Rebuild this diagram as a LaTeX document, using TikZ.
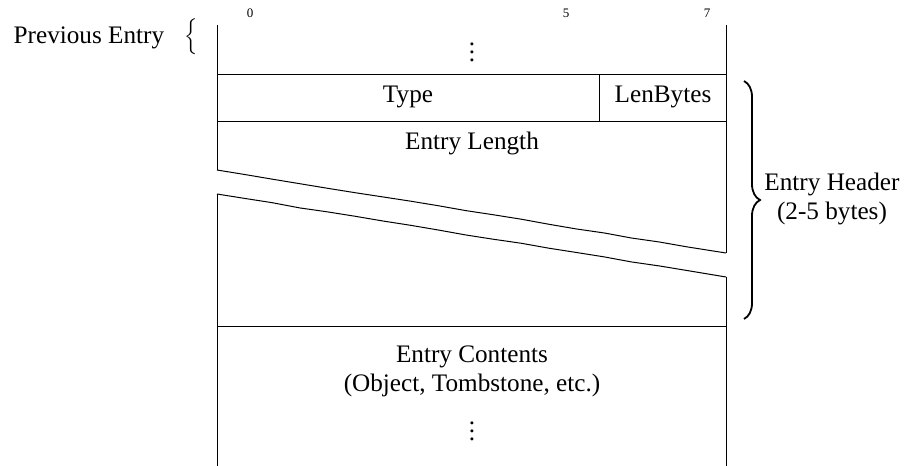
\documentclass[tikz,border=0pt]{standalone}
\usepackage{fontspec}
\setmainfont{Liberation Serif}
\usetikzlibrary{positioning, decorations.pathreplacing, decorations.pathmorphing}

\begin{document}
\begin{tikzpicture}[x=0.5pt,y=-0.5pt,line width=0.5pt]
    \tikzstyle{field}=[font=\fontsize{12.6}{14.5}\selectfont,inner sep=0pt,align=center]
    \tikzstyle{bitno}=[font=\fontsize{6.5}{7}\selectfont,inner sep=0pt]
    \tikzstyle{cut}=[decorate,decoration={random steps,segment length=14pt,amplitude=0.25pt}]
    \pgfmathsetseed{11}

    \useasboundingbox (0,0) rectangle (917,466);

    % frame corners
    \coordinate (L0) at (217,25);
    \coordinate (R0) at (726,25);
    \coordinate (L1) at (217,170);
    \coordinate (R1) at (726,253);
    \coordinate (L2) at (217,194);
    \coordinate (R2) at (726,277);
    \coordinate (L3) at (217,466);
    \coordinate (R3) at (726,466);

    % bit numbers
    \node[bitno] (b0) at (250,13) {0};
    \node[bitno] (b5) at (566,13) {5};
    \node[bitno] (b7) at (707,13) {7};

    % sides of the word, broken in the middle
    \draw (L0) -- (L1);
    \draw (L2) -- (L3);
    \draw (R0) -- (R1);
    \draw (R2) -- (R3);
    \draw[cut] (L1) -- (R1);
    \draw[cut] (L2) -- (R2);

    % rows
    \draw (217,74) -- (726,74);
    \draw (217,121) -- (726,121);
    \draw (217,326) -- (726,326);
    \draw (599,74) -- (599,121);

    \node[field] (prev) at (472,46) {$\vdots$};
    \node[field] (type) at (408,97) {Type};
    \node[field] (lenb) at (663,97) {LenBytes};
    \node[field] (len) at (472,143) {Entry Length};
    \node[field] (body) at (472,371) {Entry Contents\\(Object, Tombstone, etc.)};
    \node[field,below=6pt of body] (more) {$\vdots$};

    \node[field,anchor=east] (prevlbl) at (198,37) {Previous Entry\hspace{10pt}$\Bigl\{$};

    % header brace
    \coordinate (h0) at (744,81);
    \coordinate (h1) at (744,319);
    \draw[decorate,decoration={brace,amplitude=8pt},line width=0.9pt] (h0) -- (h1);
    \node[field] (hdr) at (832,199) {Entry Header\\(2-5 bytes)};

\end{tikzpicture}
\end{document}
